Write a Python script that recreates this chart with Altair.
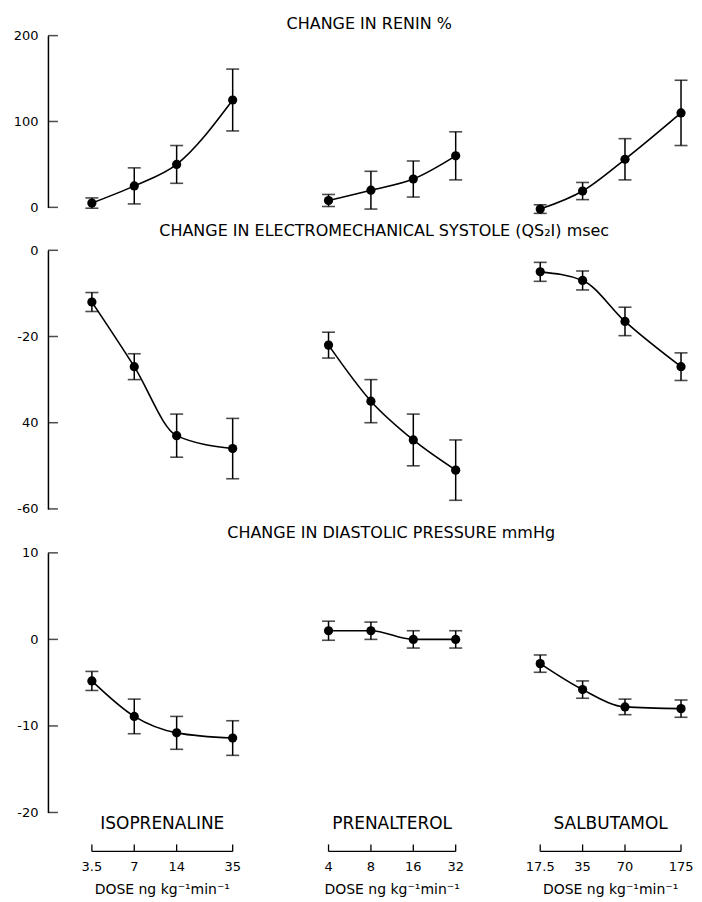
import altair as alt
import pandas as pd

# ---------------- data ----------------
drug_names = ["ISOPRENALINE", "PRENALTEROL", "SALBUTAMOL"]

iso_dose = [3.5, 7, 14, 35]
pren_dose = [4, 8, 16, 32]
salb_dose = [17.5, 35, 70, 175]
iso_dose_labels = ["3.5", "7", "14", "35"]
pren_dose_labels = ["4", "8", "16", "32"]
salb_dose_labels = ["17.5", "35", "70", "175"]
dose_units = ["DOSE  ng kg⁻¹min⁻¹", "DOSE  ng kg⁻¹min⁻¹", "DOSE ng kg⁻¹min⁻¹"]

renin_iso = [5, 25, 50, 125]
renin_iso_se = [6, 21, 22, 36]
renin_pren = [8, 20, 33, 60]
renin_pren_se = [7, 22, 21, 28]
renin_salb = [-2, 19, 56, 110]
renin_salb_se = [5, 10, 24, 38]

qs2i_iso = [-12, -27, -43, -46]
qs2i_iso_se = [2.2, 3, 5, 7]
qs2i_pren = [-22, -35, -44, -51]
qs2i_pren_se = [3, 5, 6, 7]
qs2i_salb = [-5, -7, -16.5, -27]
qs2i_salb_se = [2.2, 2.2, 3.3, 3.2]

dia_iso = [-4.8, -8.9, -10.8, -11.4]
dia_iso_se = [1.1, 2.0, 1.9, 2.0]
dia_pren = [1, 1, 0, 0]
dia_pren_se = [1.1, 1.0, 1.0, 1.0]
dia_salb = [-2.8, -5.8, -7.8, -8.0]
dia_salb_se = [1.0, 1.0, 0.9, 1.0]

renin_title = "CHANGE IN RENIN  %"
qs2i_title = "CHANGE IN ELECTROMECHANICAL SYSTOLE (QS₂I) msec"
dia_title = "CHANGE IN DIASTOLIC PRESSURE  mmHg"

renin_ticks = [0, 100, 200]
renin_tick_labels = ["0", "100", "200"]
qs2i_ticks = [0, -20, -40, -60]
qs2i_tick_labels = ["0", "-20", "40", "-60"]
dia_ticks = [10, 0, -10, -20]
dia_tick_labels = ["10", "0", "-10", "-20"]

# ---------------- layout / style ----------------
FONT = "DejaVu Sans"
PX_PER_DECADE = 141
panel_widths = [232, 220, 188]
first_dose_inset = [44, 49, 41]

dose_lists = [iso_dose, pren_dose, salb_dose]
dose_label_lists = [iso_dose_labels, pren_dose_labels, salb_dose_labels]

rows = [
    dict(title=renin_title, means=[renin_iso, renin_pren, renin_salb],
         se=[renin_iso_se, renin_pren_se, renin_salb_se], dom=[0, 200],
         ticks=renin_ticks, labels=renin_tick_labels, height=172,
         offset=-2, dx=19, dy=0),
    dict(title=qs2i_title, means=[qs2i_iso, qs2i_pren, qs2i_salb],
         se=[qs2i_iso_se, qs2i_pren_se, qs2i_salb_se], dom=[-60, 0],
         ticks=qs2i_ticks, labels=qs2i_tick_labels, height=259,
         offset=11, dx=34, dy=6),
    dict(title=dia_title, means=[dia_iso, dia_pren, dia_salb],
         se=[dia_iso_se, dia_pren_se, dia_salb_se], dom=[-20, 10],
         ticks=dia_ticks, labels=dia_tick_labels, height=260,
         offset=6, dx=38, dy=0),
]


def label_expr(values, labels):
    expr = "''"
    for v, l in reversed(list(zip(values, labels))):
        expr = f"datum.value == {v} ? '{l}' : ({expr})"
    return expr


def panel(r, c):
    row = rows[r]
    doses = dose_lists[c]
    means = row["means"][c]
    se = row["se"][c]
    df = pd.DataFrame({
        "dose": doses,
        "mean": means,
        "lo": [m - s for m, s in zip(means, se)],
        "hi": [m + s for m, s in zip(means, se)],
        "label": dose_label_lists[c],
    })
    w = panel_widths[c]
    lo = doses[0] / 10 ** (first_dose_inset[c] / PX_PER_DECADE)
    hi = lo * 10 ** (w / PX_PER_DECADE)
    xs = alt.Scale(type="log", domain=[lo, hi], nice=False)
    ys = alt.Scale(domain=row["dom"], nice=False, zero=False)
    if c == 0:
        yaxis = alt.Axis(values=row["ticks"], labelExpr=label_expr(row["ticks"], row["labels"]),
                         ticks=False, domain=True, domainColor="black", domainWidth=1.5,
                         grid=False, title=None, labelFont=FONT, labelFontSize=13,
                         labelColor="black", labelPadding=10, minExtent=35, maxExtent=35)
    else:
        yaxis = None

    def X(f):
        return alt.X(f, type="quantitative", scale=xs, axis=None)

    def Y(f):
        return alt.Y(f, type="quantitative", scale=ys, axis=yaxis)

    base = alt.Chart(df)
    layers = [
        base.mark_line(interpolate="monotone", color="black", strokeWidth=1.6)
        .encode(x=X("dose"), y=Y("mean")),
        base.mark_rule(color="black", strokeWidth=1.5)
        .encode(x=X("dose"), y=Y("lo"), y2="hi:Q"),
        base.mark_tick(orient="horizontal", size=13, thickness=1.6, color="black")
        .encode(x=X("dose"), y=Y("lo")),
        base.mark_tick(orient="horizontal", size=13, thickness=1.6, color="black")
        .encode(x=X("dose"), y=Y("hi")),
        base.mark_circle(size=85, color="black", opacity=1)
        .encode(x=X("dose"), y=Y("mean")),
    ]
    if c == 0:
        tdf = pd.DataFrame({"v": row["ticks"]})
        layers.append(
            alt.Chart(tdf).mark_tick(orient="horizontal", size=10, thickness=1.5, color="black")
            .encode(x=alt.value(5), y=Y("v"))
        )
    if r == len(rows) - 1:
        meta = pd.DataFrame({
            "name": [drug_names[c]],
            "mid": [(doses[0] * doses[-1]) ** 0.5],
            "dmin": [doses[0]],
            "dmax": [doses[-1]],
            "unit": [dose_units[c]],
        })
        mbase = alt.Chart(meta)
        layers += [
            mbase.mark_text(font=FONT, fontSize=17, color="black", baseline="middle")
            .encode(x=X("mid"), y=alt.value(272), text="name:N"),
            mbase.mark_rule(color="black", strokeWidth=1.3)
            .encode(x=X("dmin"), x2="dmax:Q", y=alt.value(299)),
            base.mark_rule(color="black", strokeWidth=1.3)
            .encode(x=X("dose"), y=alt.value(292), y2=alt.value(299)),
            base.mark_text(font=FONT, fontSize=13, color="black", baseline="middle")
            .encode(x=X("dose"), y=alt.value(315), text="label:N"),
            mbase.mark_text(font=FONT, fontSize=14, color="black", baseline="middle")
            .encode(x=X("mid"), y=alt.value(338), text="unit:N"),
        ]
    return alt.layer(*layers).properties(width=w, height=row["height"])


row_charts = []
for r, row in enumerate(rows):
    row_charts.append(
        alt.hconcat(*[panel(r, c) for c in range(3)], spacing=0,
                    title=alt.TitleParams(text=row["title"], font=FONT, fontSize=16,
                                          fontWeight="normal", color="black",
                                          anchor="middle", offset=row["offset"],
                                          dx=row["dx"], dy=row["dy"]))
    )

chart = (
    alt.vconcat(*row_charts, spacing=9)
    .properties(padding={"top": 7, "left": 5, "right": 0, "bottom": 0}, background="white")
    .configure_view(stroke=None)
)

chart.save("out.html", embed_options={"renderer": "svg", "actions": False})
